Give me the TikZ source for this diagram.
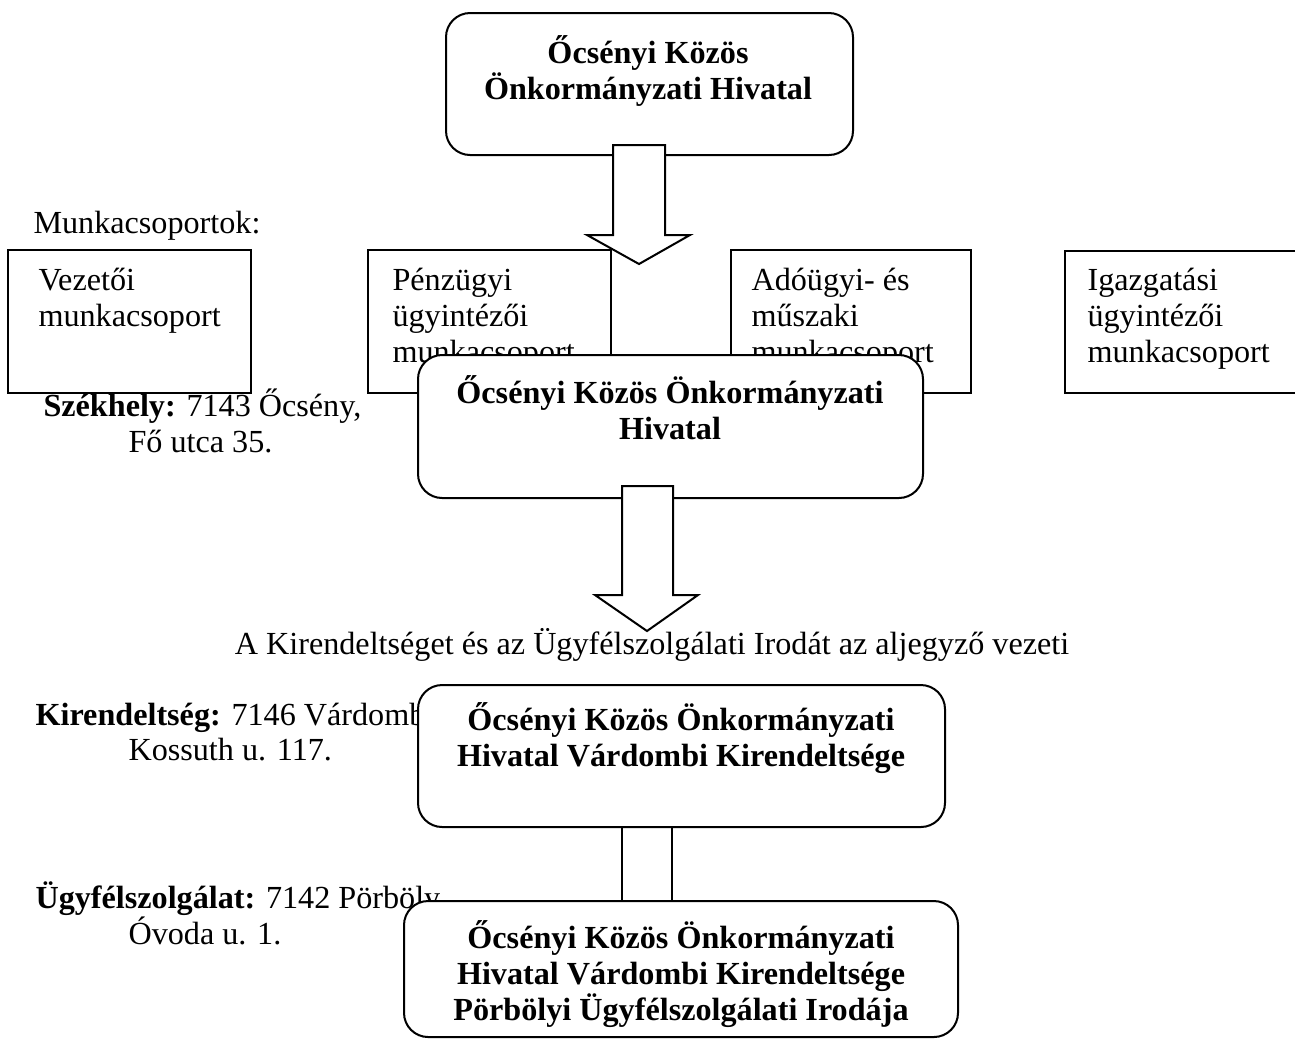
\documentclass[tikz,border=0pt]{standalone}
\usepackage{fontspec}
\setmainfont{Liberation Serif}
\usetikzlibrary{positioning,fit,calc}

\tikzset{
  box/.style={draw=black, fill=white, line width=0.75pt, inner sep=0pt},
  roundbox/.style={box, rounded corners=9pt},
  title/.style={font=\bfseries, align=center, inner sep=0pt, anchor=base},
  label/.style={align=left, inner sep=0pt, anchor=base west},
  blockarrow/.style={draw=black, fill=white, line width=0.75pt, line join=miter},
}

\begin{document}
\fontsize{12}{13.4}\selectfont
\begin{tikzpicture}[x=0.373pt, y=-0.373pt]
\useasboundingbox (0,0) rectangle (1295,1042);

% hivatal (multi-line nodes sit on their last baseline)
\node[roundbox, fit={(446,13) (853,155)}] (hq) {};
\node[title] (hqtitle) at (648,99) {Őcsényi Közös\\Önkormányzati Hivatal};

% munkacsoportok
\node[label] (groups) at (33,233) {Munkacsoportok:};
\node[box, fit={(8,250) (251,393)}] (vez) {};
\node[label] (veztext) at (38,326) {Vezetői\\munkacsoport};
\node[box, fit={(368,250) (611,393)}] (penz) {};
\node[label] (penztext) at (392,362) {Pénzügyi\\ügyintézői\\munkacsoport};
\node[box, fit={(731,250) (971,393)}] (ado) {};
\node[label] (adotext) at (751,362) {Adóügyi- és\\műszaki\\munkacsoport};
\node[box, fit={(1065,251) (1320,393)}] (igaz) {};
\node[label] (igaztext) at (1087,362) {Igazgatási\\ügyintézői\\munkacsoport};

\draw[blockarrow] (613,145) -- (665,145) -- (665,235) -- (690,235) -- (639,264)
  -- (587,235) -- (613,235) -- cycle;

% szekhely
\node[label] (seat) at (43,416) {\textbf{Székhely:} 7143 Őcsény,};
\node[label] (seataddr) at (128,452) {Fő utca 35.};

\node[roundbox, fit={(418,355) (923,498)}] (mid) {};
\node[title] (midtitle) at (670,439) {Őcsényi Közös Önkormányzati\\Hivatal};

\draw[blockarrow] (622,486) -- (673,486) -- (673,595) -- (698,595) -- (647,631)
  -- (595,595) -- (622,595) -- cycle;

\node[anchor=base, inner sep=0pt] (lead) at (652,654)
  {A Kirendeltséget és az Ügyfélszolgálati Irodát az aljegyző vezeti};

% kirendeltseg, ugyfelszolgalat
\node[label] (branch) at (35,725) {\textbf{Kirendeltség:} 7146 Várdomb,};
\node[label] (branchaddr) at (128,760) {Kossuth u. 117.};
\node[label] (office) at (35,908) {\textbf{Ügyfélszolgálat:} 7142 Pörböly,};
\node[label] (officeaddr) at (128,944) {Óvoda u. 1.};

\node[roundbox, fit={(418,685) (945,827)}] (kir) {};
\node[title] (kirtitle) at (681,766) {Őcsényi Közös Önkormányzati\\Hivatal Várdombi Kirendeltsége};

\node[roundbox, fit={(404,901) (958,1037)}] (iroda) {};
\node[title] (irodatitle) at (681,1020) {Őcsényi Közös Önkormányzati\\Hivatal Várdombi Kirendeltsége\\Pörbölyi Ügyfélszolgálati Irodája};

\coordinate (linkl) at (622,0);
\coordinate (linkr) at (672,0);
\draw[line width=0.75pt] (kir.south -| linkl) -- (iroda.north -| linkl);
\draw[line width=0.75pt] (kir.south -| linkr) -- (iroda.north -| linkr);
\end{tikzpicture}
\end{document}
